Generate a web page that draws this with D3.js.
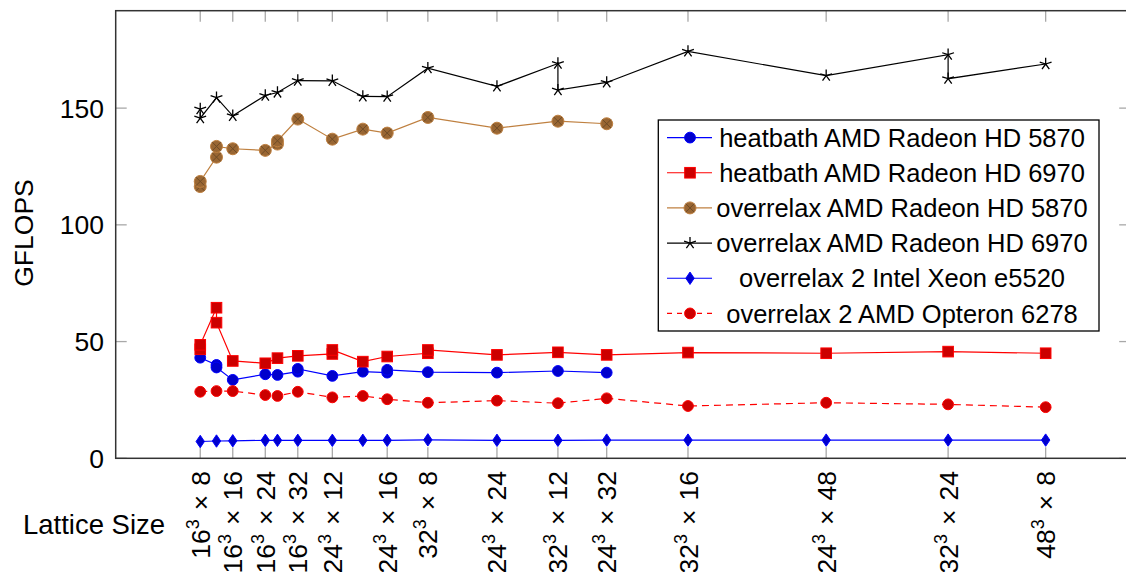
<!DOCTYPE html>
<html>
<head>
<meta charset="utf-8">
<script src="https://cdn.jsdelivr.net/npm/d3@7"></script>
<style>
  html, body { margin: 0; padding: 0; background: #fff; }
  svg { display: block; font-family: "Liberation Sans", Arial, sans-serif; }
</style>
</head>
<body>
<svg id="chart" width="1126" height="572"></svg>
<script>
// Lattice volumes (L^3 x T) used as x positions of the labelled ticks
const tickVolumes = [32768, 65536, 98304, 131072, 165888, 221184, 262144, 331776, 393216, 442368, 524288, 663552, 786432, 884736];
const tickLabels = ["16^3×8", "16^3×16", "16^3×24", "16^3×32", "24^3×12", "24^3×16", "32^3×8",
                    "24^3×24", "32^3×12", "24^3×32", "32^3×16", "24^3×48", "32^3×24", "48^3×8"];
const yTicks = [0, 50, 100, 150];

// heatbath, AMD Radeon HD 5870
const hb5870X = [32768, 49152, 49152, 65536, 98304, 110592, 131072, 131072, 165888, 196608, 221184, 221184, 262144, 331776, 393216, 442368];
const hb5870Y = [43.1, 40.0, 38.9, 33.6, 36.0, 35.7, 37.1, 38.3, 35.3, 37.1, 36.7, 37.9, 36.9, 36.7, 37.4, 36.7];

// heatbath, AMD Radeon HD 6970
const hb6970X = [32768, 32768, 49152, 49152, 65536, 98304, 110592, 131072, 165888, 165888, 196608, 221184, 262144, 262144, 331776, 393216, 442368, 524288, 663552, 786432, 884736];
const hb6970Y = [46.7, 48.6, 64.5, 58.1, 41.7, 40.7, 42.9, 43.9, 44.7, 46.4, 41.4, 43.6, 45.0, 46.4, 44.3, 45.4, 44.3, 45.3, 45.0, 45.7, 45.0];

// overrelaxation, AMD Radeon HD 5870
const or5870X = [32768, 32768, 49152, 49152, 65536, 98304, 110592, 110592, 131072, 165888, 196608, 221184, 262144, 331776, 393216, 442368];
const or5870Y = [116.4, 118.6, 129.0, 133.6, 132.6, 131.9, 134.6, 136.0, 145.3, 136.7, 141.0, 139.3, 146.0, 141.4, 144.4, 143.3];

// overrelaxation, AMD Radeon HD 6970
const or6970X = [32768, 32768, 49152, 65536, 98304, 110592, 131072, 165888, 196608, 221184, 262144, 331776, 393216, 393216, 442368, 524288, 663552, 786432, 786432, 884736];
const or6970Y = [149.6, 145.7, 154.5, 146.7, 155.4, 156.7, 161.8, 161.7, 155.0, 154.9, 167.1, 159.3, 169.1, 157.7, 161.0, 174.3, 163.9, 172.9, 162.6, 168.9];

// overrelaxation on CPUs
const cpuX = [32768, 49152, 65536, 98304, 110592, 131072, 165888, 196608, 221184, 262144, 331776, 393216, 442368, 524288, 663552, 786432, 884736];
const xeonY = [7.2, 7.4, 7.5, 7.7, 7.7, 7.7, 7.7, 7.7, 7.7, 7.9, 7.7, 7.7, 7.8, 7.8, 7.8, 7.8, 7.8];
const opteronY = [28.5, 28.8, 28.8, 27.1, 26.7, 28.5, 26.1, 26.7, 25.3, 23.8, 24.7, 23.6, 25.7, 22.4, 23.8, 23.1, 21.9];

const seriesNames = [
  "heatbath AMD Radeon HD 5870",
  "heatbath AMD Radeon HD 6970",
  "overrelax AMD Radeon HD 5870",
  "overrelax AMD Radeon HD 6970",
  "overrelax 2 Intel Xeon e5520",
  "overrelax 2 AMD Opteron 6278"
];

// styling per series (line colour, mark fill = colour!80!black)
const series = [
  { x: hb5870X, y: hb5870Y, color: "#0000ff", fill: "#0000cc", mark: "circle" },
  { x: hb6970X, y: hb6970Y, color: "#ff0000", fill: "#cc0000", mark: "square" },
  { x: or5870X, y: or5870Y, color: "#bf8040", fill: "#996633", mark: "otimes" },
  { x: or6970X, y: or6970Y, color: "#000000", fill: "#000000", mark: "star" },
  { x: cpuX, y: xeonY, color: "#0000ff", fill: "#0000cc", mark: "diamond" },
  { x: cpuX, y: opteronY, color: "#ff0000", fill: "#cc0000", mark: "circle", dash: "7,5" }
].map((s, i) => ({ ...s, name: seriesNames[i] }));

const svg = d3.select("#chart");
const plot = { left: 115.7, right: 1130.2, top: 10.7, bottom: 458.3 };
const FS = 25.5;      // legend text
const FS_AX = 26.5;   // tick labels and axis titles

// x limits enlarged by 10% of the tick range, y from 0 with 10% headroom
const xMin = d3.min(tickVolumes), xMax = d3.max(tickVolumes);
const xPad = 0.1 * (xMax - xMin);
const x = d3.scaleLinear().domain([xMin - xPad, xMax + xPad]).range([plot.left, plot.right]);
const yMax = d3.max(series.flatMap(s => s.y));
const y = d3.scaleLinear().domain([0, yMax * 1.1]).range([plot.bottom, plot.top]);

const tickLen = 11;
const tickColor = "#a8a8a8";

// tick marks (inside, on both sides)
const gTicks = svg.append("g").attr("stroke", tickColor).attr("stroke-width", 1.3);
tickVolumes.forEach(v => {
  const px = x(v);
  gTicks.append("line").attr("x1", px).attr("x2", px).attr("y1", plot.bottom).attr("y2", plot.bottom - tickLen);
  gTicks.append("line").attr("x1", px).attr("x2", px).attr("y1", plot.top).attr("y2", plot.top + tickLen);
});
yTicks.forEach(v => {
  const py = y(v);
  gTicks.append("line").attr("x1", plot.left).attr("x2", plot.left + tickLen).attr("y1", py).attr("y2", py);
  gTicks.append("line").attr("x1", plot.right).attr("x2", plot.right - tickLen).attr("y1", py).attr("y2", py);
});

// data lines
const line = d3.line().x(d => x(d[0])).y(d => y(d[1]));
series.forEach(s => {
  const pts = s.x.map((v, i) => [v, s.y[i]]);
  svg.append("path")
    .attr("d", line(pts))
    .attr("fill", "none")
    .attr("stroke", s.color)
    .attr("stroke-width", 1.2)
    .attr("stroke-dasharray", s.dash || null);
});

// mark drawing
function drawMark(g, type, cx, cy, s) {
  if (type === "circle") {
    g.append("circle").attr("cx", cx).attr("cy", cy).attr("r", 5.4)
      .attr("fill", s.fill).attr("stroke", s.color).attr("stroke-width", 1);
  } else if (type === "square") {
    const h = 5.3;
    g.append("rect").attr("x", cx - h).attr("y", cy - h).attr("width", 2 * h).attr("height", 2 * h)
      .attr("fill", s.fill).attr("stroke", s.color).attr("stroke-width", 1);
  } else if (type === "otimes") {
    const r = 6;
    g.append("circle").attr("cx", cx).attr("cy", cy).attr("r", r)
      .attr("fill", s.fill).attr("stroke", s.color).attr("stroke-width", 1);
    const k = r * Math.SQRT1_2;
    g.append("path")
      .attr("d", `M${cx - k},${cy - k}L${cx + k},${cy + k}M${cx - k},${cy + k}L${cx + k},${cy - k}`)
      .attr("stroke", "#6e4b26").attr("stroke-width", 1);
  } else if (type === "star") {
    const r = 6.2;
    let d = "";
    for (let k = 0; k < 5; k++) {
      const a = -Math.PI / 2 + k * 2 * Math.PI / 5;
      d += `M${cx},${cy}L${cx + r * Math.cos(a)},${cy + r * Math.sin(a)}`;
    }
    g.append("path").attr("d", d).attr("stroke", s.color).attr("stroke-width", 1.3).attr("fill", "none");
  } else if (type === "diamond") {
    const w = 4.2, h = 6.2;
    g.append("path").attr("d", `M${cx},${cy - h}L${cx + w},${cy}L${cx},${cy + h}L${cx - w},${cy}Z`)
      .attr("fill", s.fill).attr("stroke", s.color).attr("stroke-width", 1);
  }
}

series.forEach(s => {
  const g = svg.append("g");
  s.x.forEach((v, i) => drawMark(g, s.mark, x(v), y(s.y[i]), s));
});

// axis frame
svg.append("rect")
  .attr("x", plot.left).attr("y", plot.top)
  .attr("width", plot.right - plot.left).attr("height", plot.bottom - plot.top)
  .attr("fill", "none").attr("stroke", "#333").attr("stroke-width", 1.5);

// y tick labels
svg.append("g").selectAll("text").data(yTicks).join("text")
  .attr("x", 104).attr("y", d => y(d)).attr("dy", "0.36em")
  .attr("text-anchor", "end").attr("font-size", FS_AX).attr("fill", "#000")
  .text(d => d);

// x tick labels: rotated, reading upwards, superscript exponent
const gx = svg.append("g");
tickVolumes.forEach((v, i) => {
  const m = tickLabels[i].match(/^(\d+)\^(\d+)×(\d+)$/);
  const t = gx.append("text")
    .attr("transform", `translate(${x(v)},471) rotate(-90)`)
    .attr("text-anchor", "end").attr("dy", "0.36em")
    .attr("font-size", FS_AX).attr("fill", "#000");
  t.append("tspan").text(m[1]);
  t.append("tspan").attr("font-size", 18).attr("dy", -11).text(m[2]);
  t.append("tspan").attr("dy", 11).attr("dx", 9).text("×");
  t.append("tspan").attr("dx", 9).text(m[3]);
});

// axis titles
svg.append("text").attr("x", 94).attr("y", 534).attr("text-anchor", "middle")
  .attr("font-size", 27.5).attr("fill", "#000").text("Lattice Size");
svg.append("text").attr("transform", "translate(23,233) rotate(-90)")
  .attr("text-anchor", "middle").attr("dy", "0.36em")
  .attr("font-size", FS_AX).attr("fill", "#000").text("GFLOPS");

// legend
const lg = { x0: 658.3, y0: 120, x1: 1099, y1: 331 };
const legend = svg.append("g");
legend.append("rect").attr("x", lg.x0).attr("y", lg.y0)
  .attr("width", lg.x1 - lg.x0).attr("height", lg.y1 - lg.y0)
  .attr("fill", "#fff").attr("stroke", "#000").attr("stroke-width", 1.3);
const rowH = (lg.y1 - lg.y0) / 6;
series.forEach((s, i) => {
  const cy = lg.y0 + rowH * (i + 0.5);
  legend.append("line").attr("x1", 667).attr("x2", 712).attr("y1", cy).attr("y2", cy)
    .attr("stroke", s.color).attr("stroke-width", 1.2).attr("stroke-dasharray", s.dash ? "5,5" : null);
  drawMark(legend, s.mark, 690, cy, s);
  legend.append("text").attr("x", 902).attr("y", cy).attr("dy", "0.36em")
    .attr("text-anchor", "middle").attr("font-size", FS).attr("fill", "#000").text(s.name);
});
</script>
</body>
</html>
